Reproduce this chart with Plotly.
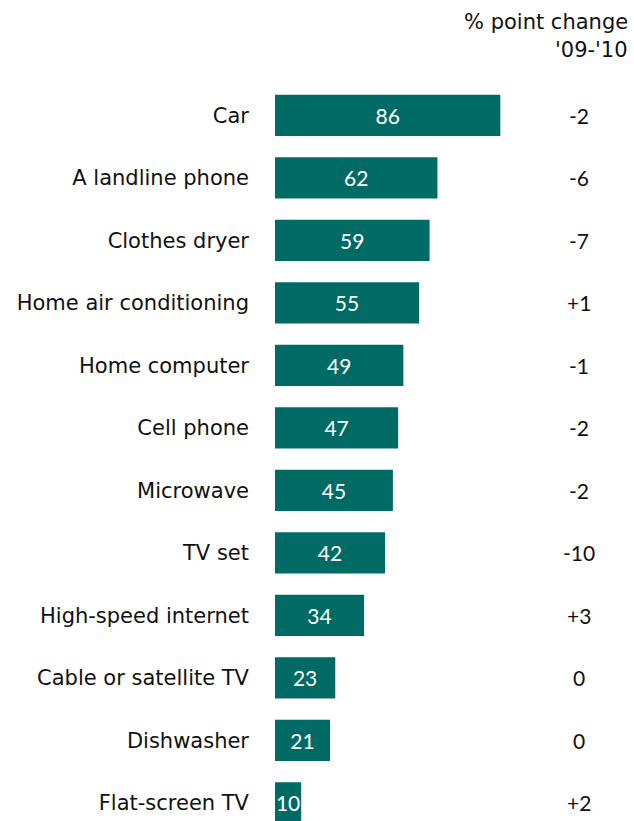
import plotly.graph_objects as go

categories = ["Car", "A landline phone", "Clothes dryer", "Home air conditioning",
              "Home computer", "Cell phone", "Microwave", "TV set",
              "High-speed internet", "Cable or satellite TV", "Dishwasher", "Flat-screen TV"]
values = [86, 62, 59, 55, 49, 47, 45, 42, 34, 23, 21, 10]
changes = ["-2", "-6", "-7", "+1", "-1", "-2", "-2", "-10", "+3", "0", "0", "+2"]

FONT = "DejaVu Sans"
NUMFONT = "Lato"
TEAL = "#006a64"
TXT = "#111111"
FS = 21
NFS = 21

W, H = 634, 821
PL = 275          # plot left in pixels
PW = 261.6        # plot width in pixels (x range 0..100)
PT = 84           # plot top in pixels
PH = H - PT

def px_x(p):
    return (p - PL) / PW

def px_y(p):
    return 1 - (p - PT) / PH

fig = go.Figure()
fig.add_trace(go.Bar(
    x=values, y=categories, orientation="h",
    marker=dict(color=TEAL, line=dict(width=0)),
    width=0.66,
    text=[str(v) for v in values],
    textposition="inside", insidetextanchor="middle",
    constraintext="none",
    insidetextfont=dict(color="white", size=NFS, family=NUMFONT),
    hoverinfo="skip",
))

annotations = []
for c, ch in zip(categories, changes):
    annotations.append(dict(
        x=px_x(579), xref="paper", y=c, yref="y", text=ch, showarrow=False,
        xanchor="center", yanchor="middle",
        font=dict(size=NFS, family=NUMFONT, color=TXT),
    ))
annotations.append(dict(
    x=px_x(629), xref="paper", y=px_y(22), yref="paper",
    text="% point change", showarrow=False, xanchor="right", yanchor="middle",
    font=dict(size=FS, family=FONT, color=TXT),
))
annotations.append(dict(
    x=px_x(629), xref="paper", y=px_y(50), yref="paper",
    text="'09-'10", showarrow=False, xanchor="right", yanchor="middle",
    font=dict(size=FS, family=FONT, color=TXT),
))

fig.update_layout(
    width=W, height=H,
    margin=dict(l=PL, r=W - PL - PW, t=PT, b=0, pad=0, autoexpand=False),
    paper_bgcolor="white", plot_bgcolor="white",
    showlegend=False,
    font=dict(family=FONT, size=FS, color=TXT),
    xaxis=dict(range=[0, 100], visible=False, fixedrange=True),
    yaxis=dict(
        categoryorder="array", categoryarray=categories,
        range=[11.29, -0.5],
        showgrid=False, zeroline=False, showline=False, ticks="",
        ticklabelstandoff=25, fixedrange=True,
        tickfont=dict(size=FS, family=FONT, color=TXT),
    ),
    annotations=annotations,
)

fig.write_html("out.html",
               config={"displayModeBar": False, "staticPlot": True},
               post_script="document.body.style.margin='0';document.body.style.overflow='hidden';")
